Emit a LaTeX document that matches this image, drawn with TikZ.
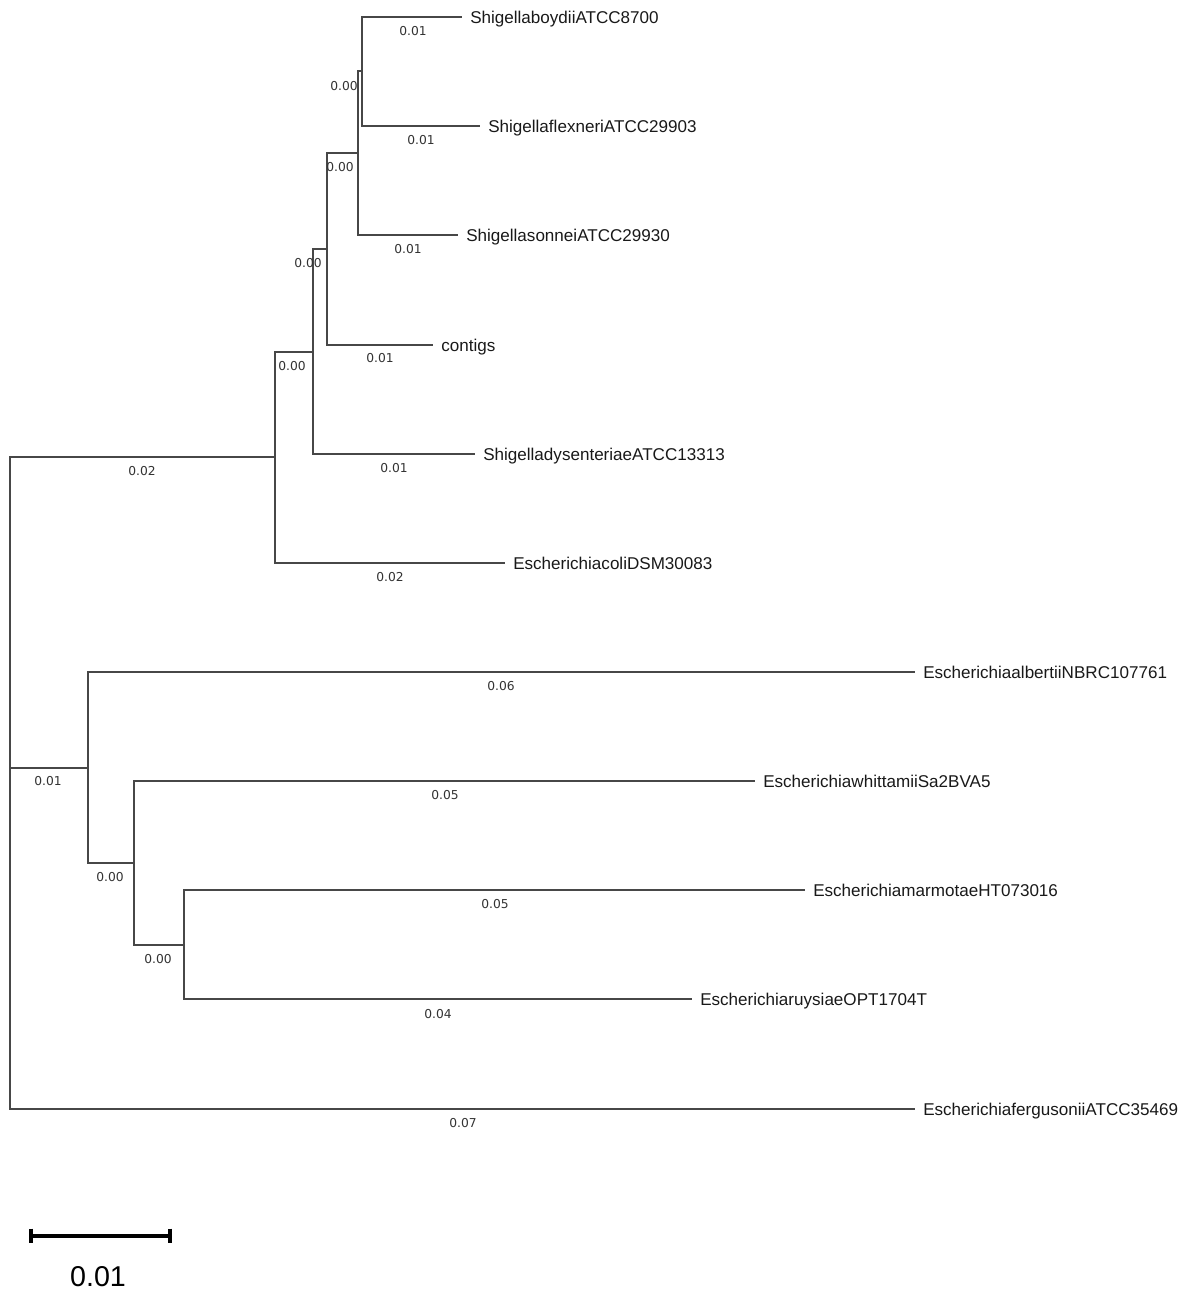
\documentclass[tikz,border=0pt]{standalone}
\usepackage{fontspec}
\setmainfont{Liberation Sans}
\newfontfamily\lblfont{DejaVu Sans}
\begin{document}
\begin{tikzpicture}[x=0.75pt,y=-0.75pt,
  edge/.style={draw=black!72, line width=0.9pt},
  leaf/.style={anchor=west, inner xsep=6pt, inner ysep=0pt, text height=9.2pt, text depth=0pt, font=\fontsize{12.8}{14}\selectfont, text=black!90},
  blen/.style={inner sep=0pt, font=\lblfont\fontsize{9.2}{10}\selectfont, text=black!80},
  scalebar/.style={draw=black, line width=3pt},
]
\useasboundingbox (0,0) rectangle (1187,1300);
% internal nodes
\coordinate (root) at (10,768);
\coordinate (E) at (275,457);
\coordinate (D) at (313,352);
\coordinate (C) at (327,249);
\coordinate (B) at (358,153);
\coordinate (A) at (362,71);
\coordinate (H) at (88,768);
\coordinate (G) at (134,863);
\coordinate (F) at (184,945);
% leaves
\node[leaf] (boy) at (462,17) {ShigellaboydiiATCC8700};
\node[leaf] (fle) at (480,126) {ShigellaflexneriATCC29903};
\node[leaf] (son) at (458,235) {ShigellasonneiATCC29930};
\node[leaf] (con) at (433,345) {contigs};
\node[leaf] (dys) at (475,454) {ShigelladysenteriaeATCC13313};
\node[leaf] (col) at (505,563) {EscherichiacoliDSM30083};
\node[leaf] (alb) at (915,672) {EscherichiaalbertiiNBRC107761};
\node[leaf] (whi) at (755,781) {EscherichiawhittamiiSa2BVA5};
\node[leaf] (mar) at (805,890) {EscherichiamarmotaeHT073016};
\node[leaf] (ruy) at (692,999) {EscherichiaruysiaeOPT1704T};
\node[leaf] (fer) at (915,1109) {EscherichiafergusoniiATCC35469};
% edges
\draw[edge] (A) |- (boy.west);
\draw[edge] (A) |- (fle.west);
\draw[edge] (B) |- (A);
\draw[edge] (B) |- (son.west);
\draw[edge] (C) |- (B);
\draw[edge] (C) |- (con.west);
\draw[edge] (D) |- (C);
\draw[edge] (D) |- (dys.west);
\draw[edge] (E) |- (D);
\draw[edge] (E) |- (col.west);
\draw[edge] (root) |- (E);
\draw[edge] (root) -- (H);
\draw[edge] (root) |- (fer.west);
\draw[edge] (H) |- (alb.west);
\draw[edge] (H) |- (G);
\draw[edge] (G) |- (whi.west);
\draw[edge] (G) |- (F);
\draw[edge] (F) |- (mar.west);
\draw[edge] (F) |- (ruy.west);
% branch lengths
\node[blen] (lboy) at (413,31) {0.01};
\node[blen] (lfle) at (421,140) {0.01};
\node[blen] (lA) at (344,86) {0.00};
\node[blen] (lson) at (408,249) {0.01};
\node[blen] (lB) at (340,167) {0.00};
\node[blen] (lcon) at (380,358) {0.01};
\node[blen] (lC) at (308,263) {0.00};
\node[blen] (ldys) at (394,468) {0.01};
\node[blen] (lD) at (292,366) {0.00};
\node[blen] (lcol) at (390,577) {0.02};
\node[blen] (lE) at (142,471) {0.02};
\node[blen] (lalb) at (501,686) {0.06};
\node[blen] (lwhi) at (445,795) {0.05};
\node[blen] (lmar) at (495,904) {0.05};
\node[blen] (lruy) at (438,1014) {0.04};
\node[blen] (lF) at (158,959) {0.00};
\node[blen] (lG) at (110,877) {0.00};
\node[blen] (lH) at (48,781) {0.01};
\node[blen] (lfer) at (463,1123) {0.07};
% scale bar
\coordinate (sbL) at (31,1236);
\coordinate (sbR) at (170,1236);
\draw[scalebar] (sbL) -- (sbR);
\draw[scalebar] ([yshift=5.5pt]sbL) -- ([yshift=-5.5pt]sbL);
\draw[scalebar] ([yshift=5.5pt]sbR) -- ([yshift=-5.5pt]sbR);
\node[inner sep=0pt, font=\fontsize{21.5}{24}\selectfont] (sbt) at (98,1277) {0.01};
\end{tikzpicture}
\end{document}
